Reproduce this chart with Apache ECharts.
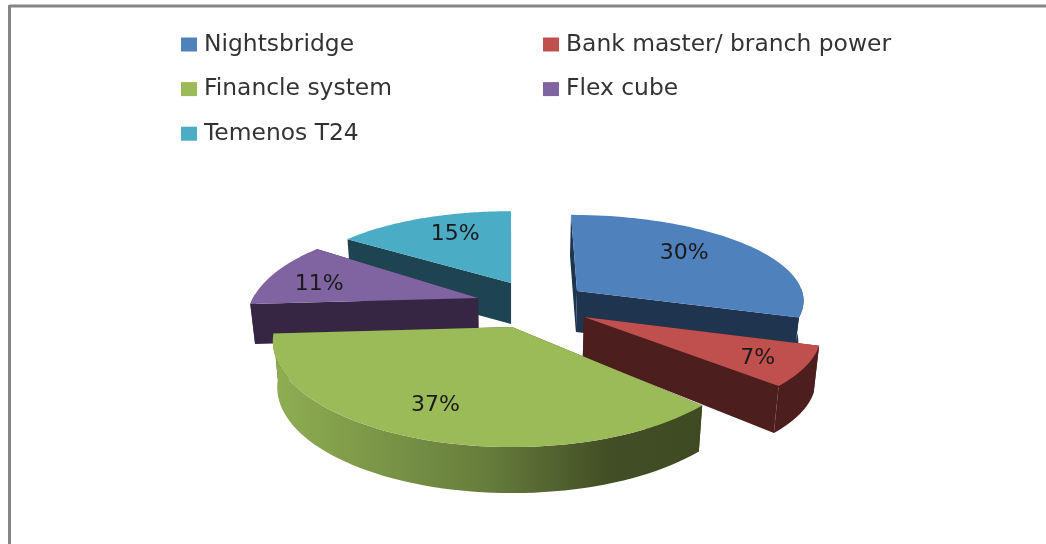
<!DOCTYPE html>
<html>
<head>
<meta charset="utf-8">
<style>html,body{margin:0;padding:0;background:#fff}#c{width:1046px;height:544px}</style>
<script src="https://cdn.jsdelivr.net/npm/echarts@6/dist/echarts.min.js"></script>
</head>
<body>
<div id="c"></div>
<script>
var categories = ['Nightsbridge', 'Bank master/ branch power', 'Financle system', 'Flex cube', 'Temenos T24'];
var shares = [30, 7, 37, 11, 15];
var topColors = ['#4f81bd', '#c0504d', '#9bbb59', '#8064a2', '#4bacc6'];
var sideColors = ['#1e344f', '#4d1e1e', '#3f4a22', '#362644', '#1d4450'];
// drawing geometry of each exploded slice: apex, radii, perspective, thickness, lean, label placement
var geometry = [
  {ax:577, ay:291, rx:225, ry:83,  p:0.09,  d:41, da:41, lean:6, lr:0.65, lx:-5,  ly:-7, z:3},
  {ax:584, ay:317, rx:233, ry:88,  p:0.186, d:47, da:40, lean:0, lr:0.80, lx:0,   ly:3,  z:4},
  {ax:512, ay:327, rx:237, ry:104, p:0.134, d:46, da:46, lean:0, lr:0.75, lx:-10, ly:-3, z:5},
  {ax:478, ay:298, rx:225, ry:94,  p:0.22,  d:40, da:40, lean:0, lr:0.75, lx:-4,  ly:5,  z:2},
  {ax:511, ay:283, rx:214, ry:79,  p:0.10,  d:41, da:41, lean:0, lr:0.65, lx:4,   ly:-5, z:1}
];
var total = shares.reduce(function (a, b) { return a + b; }, 0);

function point(g, deg, r) {
  var t = deg * Math.PI / 180, u = Math.sin(t) * r, v = -Math.cos(t) * r;
  var s = 1 / (1 - g.p * v);
  return [g.ax + g.rx * u * s + g.lean * v, g.ay + g.ry * v * s];
}
function lower(g, pt, depth) {
  return [515 + (pt[0] - 515) * 0.982, pt[1] + depth];
}
function face(points, fill) {
  return {type: 'polygon', shape: {points: points}, style: {fill: fill}};
}
function sliceRenderer(i) {
  return function (params, api) {
    var g = geometry[i];
    var before = shares.slice(0, i).reduce(function (a, b) { return a + b; }, 0);
    var a0 = before / total * 360, a1 = (before + api.value(0)) / total * 360;
    var apex = [g.ax, g.ay], arc = [], n = 60, k;
    for (k = 0; k <= n; k++) arc.push(point(g, a0 + (a1 - a0) * k / n, 1));
    var side = sideColors[i], kids = [];
    var apexLow = lower(g, apex, g.da);
    kids.push(face([apex, arc[0], lower(g, arc[0], g.d), apexLow], side));
    kids.push(face([apex, arc[n], lower(g, arc[n], g.d), apexLow], side));
    // outer wall: only the part of the rim that faces the viewer
    var front = [];
    for (k = 0; k <= n; k++) {
      var ang = (a0 + (a1 - a0) * k / n) * Math.PI / 180;
      if (-Math.cos(ang) > -0.05) front.push(arc[k]);
    }
    if (front.length > 1) {
      var wall = front.concat(front.slice().reverse().map(function (q) { return lower(g, q, g.d); }));
      var fill = side;
      if (i === 2) {
        fill = new echarts.graphic.LinearGradient(0, 0, 1, 0, [
          {offset: 0, color: '#8fae52'},
          {offset: 0.2, color: '#7f9a49'},
          {offset: 0.5, color: '#667d3c'},
          {offset: 0.78, color: '#424e25'},
          {offset: 1, color: '#3f4a22'}
        ]);
      }
      kids.push(face(wall, fill));
    }
    kids.push(face([apex].concat(arc), topColors[i]));
    var mid = point(g, (a0 + a1) / 2, g.lr);
    kids.push({type: 'text', z2: 10, style: {
      text: Math.round(api.value(0) / total * 100) + '%',
      x: mid[0] + g.lx, y: mid[1] + g.ly,
      fill: '#1a1a1a', font: '22px "DejaVu Sans"', align: 'center', verticalAlign: 'middle'
    }});
    return {type: 'group', children: kids};
  };
}

var series = categories.map(function (name, i) {
  return {
    type: 'custom', name: name, coordinateSystem: 'none', z: geometry[i].z + 2,
    itemStyle: {color: topColors[i]},
    renderItem: sliceRenderer(i),
    data: [[shares[i]]],
    animation: false, silent: true
  };
});

function legendBox(names, left) {
  return {
    orient: 'vertical', left: left, top: 28, itemWidth: 16, itemHeight: 14, itemGap: 21.6,
    icon: 'rect', data: names, selectedMode: false,
    textStyle: {fontFamily: 'DejaVu Sans', fontSize: 23.4, color: '#333', padding: [0, 0, 0, 2]}
  };
}

var chart = echarts.init(document.getElementById('c'), null, {renderer: 'canvas'});
chart.setOption({
  backgroundColor: '#ffffff',
  animation: false,
  legend: [
    legendBox([categories[0], categories[2], categories[4]], 176),
    legendBox([categories[1], categories[3]], 538)
  ],
  graphic: [
    {type: 'line', silent: true, shape: {x1: 9.5, y1: 6, x2: 1046, y2: 6}, style: {stroke: '#858585', lineWidth: 3}},
    {type: 'line', silent: true, shape: {x1: 9.5, y1: 5, x2: 9.5, y2: 544}, style: {stroke: '#858585', lineWidth: 3}}
  ],
  series: series
});
</script>
</body>
</html>
